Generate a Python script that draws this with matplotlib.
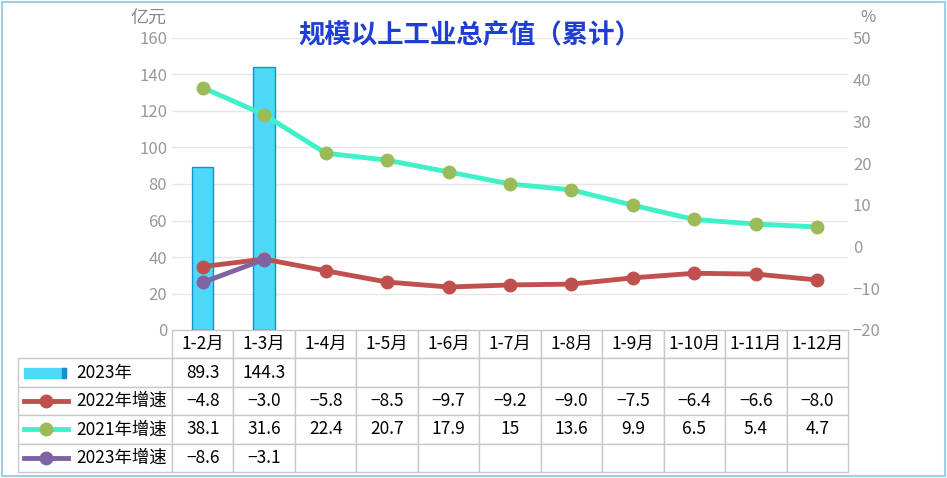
import matplotlib
matplotlib.use("Agg")
import matplotlib.pyplot as plt
from matplotlib.lines import Line2D
from matplotlib.patches import Rectangle

plt.rcParams['font.family'] = ['Noto Sans CJK SC', 'DejaVu Sans']

categories = ["1-2月","1-3月","1-4月","1-5月","1-6月","1-7月","1-8月","1-9月","1-10月","1-11月","1-12月"]
bar2023 = [89.3, 144.3]
g2022 = [-4.8, -3.0, -5.8, -8.5, -9.7, -9.2, -9.0, -7.5, -6.4, -6.6, -8.0]
g2021 = [38.1, 31.6, 22.4, 20.7, 17.9, 15, 13.6, 9.9, 6.5, 5.4, 4.7]
g2023 = [-8.6, -3.1]
row_labels = ["2023年", "2022年增速", "2021年增速", "2023年增速"]

W, H = 947, 478
fig = plt.figure(figsize=(W/100, H/100), dpi=100)
fig.patches.append(Rectangle((0.002, 0.004), 0.996, 0.992, transform=fig.transFigure,
                             fill=False, edgecolor='#9ad0e8', lw=1.5))
ax = fig.add_axes([172/W, 1-330/H, 676/W, 292/H])
ax2 = ax.twinx()
x = list(range(len(categories)))
ax.set_xlim(-0.5, len(categories)-0.5)
ax.set_ylim(0, 160)
ax.set_yticks(range(0, 161, 20))
ax2.set_ylim(-20, 50)
ax2.set_yticks(range(-20, 51, 10))
ax.grid(axis='y', color='#e6e6e6', lw=1)
ax.set_axisbelow(True)
ax.set_xticks(x)
ax.set_xticklabels([])
ax.tick_params(axis='x', length=0)
for a in (ax, ax2):
    for s in a.spines.values():
        s.set_visible(False)
    a.tick_params(axis='y', length=0, labelsize=12, colors='#999999')

ax.bar(x[:len(bar2023)], bar2023, width=0.35, color='#4dd8f8', edgecolor='#1a8fd0', lw=1, zorder=2)

lc22, lc21, lc23 = '#c0504d', '#40f0c8', '#8064a2'
ax2.plot(x, g2022, color=lc22, lw=3.5, marker='o', ms=9, mfc=lc22, zorder=3)
ax2.plot(x, g2021, color=lc21, lw=3.5, marker='o', ms=9, mfc='#9bbb59', mec='#9bbb59', zorder=3)
ax2.plot(x[:len(g2023)], g2023, color=lc23, lw=3.5, marker='o', ms=9, mfc=lc23, zorder=4)

def fmt(v):
    return "−" + str(abs(v)) if v < 0 else str(v)
rows = [bar2023, g2022, g2021, g2023]
cell = [[""] + categories]
for lab, r in zip(row_labels, rows):
    cell.append([lab] + [fmt(v) for v in r] + [""] * (len(categories) - len(r)))
tb = ax.table(cellText=cell, cellLoc='center',
              bbox=[(18-172)/676, -(472-330)/292, (848-18)/676, 142/292])
tb.auto_set_font_size(False)
first = 154/(848-18)
other = (1-first)/len(categories)
for (r, c), cl in tb.get_celld().items():
    cl.set_edgecolor('#c8c8c8')
    cl.set_fontsize(12.5)
    cl.set_width(first if c == 0 else other)
    if c == 0 and r > 0:
        cl.get_text().set_ha('left')
        cl.PAD = 0.38
    if r == 0 and c == 0:
        cl.set_edgecolor('white')

# legend keys in row label cells
rh = 142/5
for i, col in enumerate(['bar', lc22, lc21, lc23]):
    yc = 1 - (330 + rh*(i+1.5))/H
    if col == 'bar':
        fig.patches.append(Rectangle((24/W, yc-5/H), 42/W, 10/H, transform=fig.transFigure,
                                     color='#4dd8f8'))
        fig.patches.append(Rectangle((62/W, yc-5/H), 4/W, 10/H, transform=fig.transFigure,
                                     color='#1a8fd0'))
    else:
        mfc = '#9bbb59' if col == lc21 else col
        fig.add_artist(Line2D([24/W, 68/W], [yc, yc], color=col, lw=3.5))
        fig.add_artist(Line2D([46/W], [yc], marker='o', ms=9, color=mfc, mec=mfc))

fig.text(470/W, 1-35/H, "规模以上工业总产值（累计）", ha='center', va='center',
         fontsize=19, fontweight='bold', color='#1f3fd0')
fig.text(148/W, 1-18/H, "亿元", ha='center', va='center', fontsize=13, color='#888888')
fig.text(868/W, 1-18/H, "%", ha='center', va='center', fontsize=12, color='#888888')
fig.savefig("out.png", dpi=100)
